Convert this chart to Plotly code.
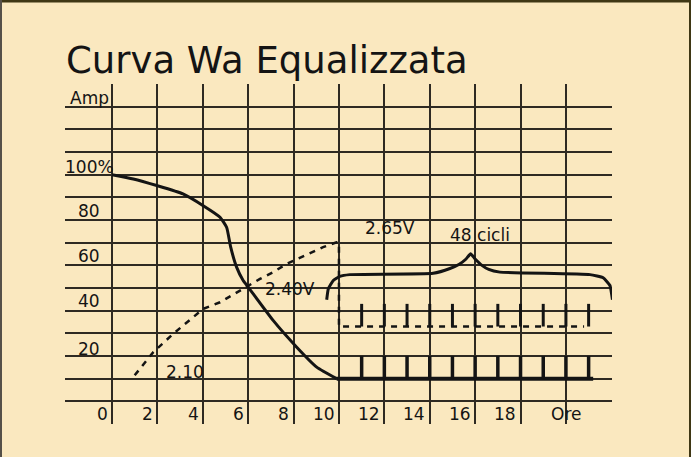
import plotly.graph_objects as go

# ---------------- data ----------------
title_text = "Curva Wa Equalizzata"

# grid positions (hours / percent)
x_grid = [0, 2, 4, 6, 8, 10, 12, 14, 16, 18, 20]
y_grid = [0, 10, 20, 30, 40, 50, 60, 70, 80, 90, 100, 110, 120, 130, 140]

# tick labels
x_tick_vals = [0, 2, 4, 6, 8, 10, 12, 14, 16, 18]
x_tick_text = ["0", "2", "4", "6", "8", "10", "12", "14", "16", "18"]
x_unit_val = 20
x_unit_text = "Ore"
y_tick_vals = [134, 103.3, 84, 64.3, 44.3, 23]
y_tick_text = ["Amp", "100%", "80", "60", "40", "20"]

# current curve (Amp %)
amp_hours = [0, 0.94, 1.97, 3.13, 4.02, 4.76, 5.05, 5.23, 5.49, 5.78, 6.0, 7.1, 8.14, 9.02, 9.9]
amp_pct = [100, 98.1, 95.2, 91.5, 86.3, 81.2, 76.8, 68.0, 59.2, 53.3, 50.4, 35.7, 23.9, 15.1, 10]
amp_base_hours = [9.9, 21.2]
amp_base_pct = [10, 10]

# voltage curve (dashed)
volt_hours = [1.0, 1.82, 2.7, 3.58, 4.02, 4.76, 5.64, 6.0, 6.52, 7.1, 7.7, 9.3, 9.9, 10.0, 10.0, 20.8]
volt_level = [11.5, 21.7, 29.8, 37.1, 40.8, 43.7, 48.9, 51.0, 54.0, 57.0, 60.7, 68.0, 70.2, 70.2, 33.0, 33.0]

# equalisation pulses
pulse_hours = [11, 12, 13, 14, 15, 16, 17, 18, 19, 20, 21]
amp_pulse_low, amp_pulse_high = 10, 20
volt_pulse_low, volt_pulse_high = 33, 43

# brace over the cycles
brace_x = [9.46, 9.53, 9.75, 10.04, 10.48, 14.15, 14.89, 15.3, 15.6, 15.8,
           16.0, 16.3, 16.6, 17.09, 21.06, 21.64, 21.94, 22.05]
brace_y = [44.8, 49.6, 53.3, 55.1, 55.9, 56.5, 58.6, 60.5, 62.8, 65.1,
           62.8, 60.0, 58.2, 57.0, 55.9, 54.5, 51.1, 44.8]

# free labels
note_text = ["2.65V", "48 cicli", "2.40V", "2.10"]
note_x = [12.25, 16.2, 7.83, 3.22]
note_y = [76.3, 73.2, 49.4, 13.0]

# ---------------- figure ----------------
INK = "#141414"
GRID = "#2e2a22"
BG = "#FAE8BF"
FONT = "DejaVu Sans"

fig = go.Figure()

fig.add_trace(go.Scatter(x=amp_hours, y=amp_pct, mode="lines",
                         line=dict(color=INK, width=3, shape="spline", smoothing=0.5),
                         hoverinfo="skip", showlegend=False))
fig.add_trace(go.Scatter(x=amp_base_hours, y=amp_base_pct, mode="lines",
                         line=dict(color=INK, width=4),
                         hoverinfo="skip", showlegend=False))

px_, py_ = [], []
for h in pulse_hours:
    px_ += [h, h, None]
    py_ += [amp_pulse_low, amp_pulse_high, None]
fig.add_trace(go.Scatter(x=px_, y=py_, mode="lines",
                         line=dict(color=INK, width=3.5),
                         hoverinfo="skip", showlegend=False))

fig.add_trace(go.Scatter(x=volt_hours, y=volt_level, mode="lines",
                         line=dict(color=INK, width=2.5, dash="6px,6px"),
                         hoverinfo="skip", showlegend=False))

vx, vy = [], []
for h in pulse_hours:
    vx += [h, h, None]
    vy += [volt_pulse_low, volt_pulse_high, None]
fig.add_trace(go.Scatter(x=vx, y=vy, mode="lines",
                         line=dict(color=INK, width=3),
                         hoverinfo="skip", showlegend=False))

fig.add_trace(go.Scatter(x=brace_x, y=brace_y, mode="lines",
                         line=dict(color=INK, width=3, shape="spline", smoothing=0.4),
                         hoverinfo="skip", showlegend=False))

annotations = []
for v, t in zip(x_tick_vals, x_tick_text):
    annotations.append(dict(x=v - 0.1, y=-5.7, text=t, xanchor="right", yanchor="middle",
                            showarrow=False, font=dict(family=FONT, size=17, color=INK)))
annotations.append(dict(x=x_unit_val, y=-5.7, text=x_unit_text, xanchor="center", yanchor="middle",
                        showarrow=False, font=dict(family=FONT, size=17, color=INK)))
for v, t in zip(y_tick_vals, y_tick_text):
    annotations.append(dict(x=-1.0, y=v, text=t, xanchor="center", yanchor="middle",
                            showarrow=False, font=dict(family=FONT, size=17, color=INK)))
for t, x, y in zip(note_text, note_x, note_y):
    annotations.append(dict(x=x, y=y, text=t, xanchor="center", yanchor="middle",
                            showarrow=False, font=dict(family=FONT, size=17, color=INK)))

fig.update_layout(
    width=691, height=457,
    margin=dict(l=65, r=79, t=84, b=33),
    paper_bgcolor=BG, plot_bgcolor=BG,
    title=dict(text=title_text, x=66 / 691, xanchor="left", xref="container",
               y=1 - 60 / 457, yanchor="middle", yref="container",
               font=dict(family=FONT, size=37, color=INK)),
    annotations=annotations,
    showlegend=False,
    shapes=[
        dict(type="line", xref="paper", yref="paper", x0=-65 / 547, x1=(547 + 79) / 547,
             y0=1 + 83 / 340, y1=1 + 83 / 340, line=dict(color="#3f3714", width=3)),
        dict(type="line", xref="paper", yref="paper", x0=-64 / 547, x1=-64 / 547,
             y0=-33 / 340, y1=1 + 84 / 340, line=dict(color="#555048", width=2)),
        dict(type="line", xref="paper", yref="paper", x0=(547 + 78) / 547, x1=(547 + 78) / 547,
             y0=-33 / 340, y1=1 + 84 / 340, line=dict(color="#3f3714", width=2)),
    ],
)
fig.update_xaxes(range=[-2.07, 22.03], tickvals=x_grid, showticklabels=False,
                 showgrid=True, gridcolor=GRID, gridwidth=1.5, zeroline=False,
                 showline=False, ticks="", fixedrange=True)
fig.update_yaxes(range=[-10, 140], tickvals=y_grid, showticklabels=False,
                 showgrid=True, gridcolor=GRID, gridwidth=1.5, zeroline=False,
                 showline=False, ticks="", fixedrange=True)

fig.write_html("out.html", config={"displayModeBar": False},
               post_script="document.body.style.margin='0';")
